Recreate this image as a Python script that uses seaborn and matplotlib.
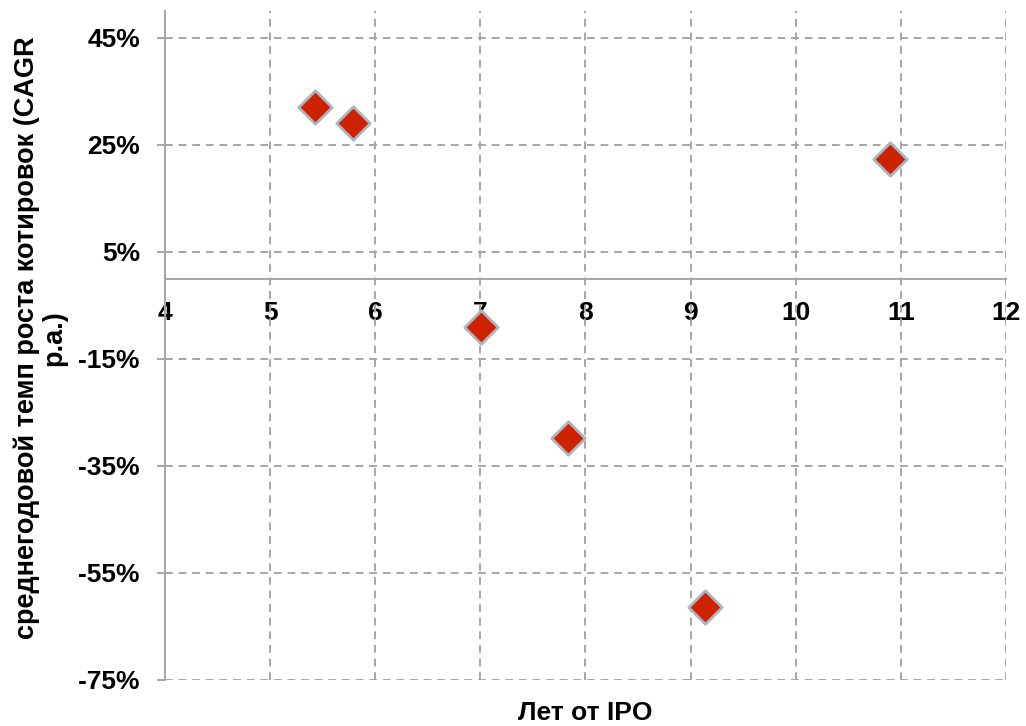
import numpy as np
import pandas as pd
import matplotlib
matplotlib.use("Agg")
import matplotlib.pyplot as plt
import seaborn as sns

# data
years_since_ipo = [5.43, 5.79, 10.9, 7.01, 7.83, 9.14]
cagr_pct = [32.1, 29.1, 22.4, -9.0, -29.8, -61.3]
y_ticks = [45, 25, 5, -15, -35, -55, -75]
x_ticks = [4, 5, 6, 7, 8, 9, 10, 11, 12]

df = pd.DataFrame({"years": years_since_ipo, "cagr": cagr_pct})

sns.set_style("white")
plt.rcParams['font.family'] = ['Liberation Sans', 'DejaVu Sans']
plt.rcParams['font.weight'] = 'bold'
plt.rcParams['text.color'] = 'black'
plt.rcParams['xtick.color'] = 'black'
plt.rcParams['ytick.color'] = 'black'

fig = plt.figure(figsize=(10.26, 7.26), dpi=100)
ax = fig.add_axes([0.1608, 0.0634, 0.8197, 0.9214])

grid_col = '#a6a6a6'
sns.scatterplot(data=df, x="years", y="cagr", marker='D', s=290,
                color='#cc2200', edgecolor='#aab5c4', linewidth=2.0,
                zorder=5, ax=ax, legend=False)

ax.set_xlim(4, 12)
ax.set_ylim(-75, 50)
ax.set_xticks(x_ticks)
ax.set_yticks(y_ticks)
ax.set_yticklabels([f"{v}%" for v in y_ticks])

for x in x_ticks[1:]:
    ax.axvline(x, color=grid_col, lw=1.4, ls=(0, (4, 3)), zorder=1)
for y in y_ticks:
    ax.axhline(y, color=grid_col, lw=1.4, ls=(0, (4, 3)), zorder=1)

ax.spines[['top', 'right']].set_visible(False)
ax.spines['bottom'].set_position(('data', 0))
for s in ['left', 'bottom']:
    ax.spines[s].set_color(grid_col)
    ax.spines[s].set_linewidth(1.4)

ax.tick_params(axis='y', length=6, width=1.4, color=grid_col, labelcolor='black',
               pad=12, labelsize=19, left=True)
ax.tick_params(axis='x', length=0, pad=16, labelsize=19, labelcolor='black',
               bottom=True)
for lab in ax.get_xticklabels() + ax.get_yticklabels():
    lab.set_fontweight('bold')

ax.set_xlabel("")
ax.set_ylabel("")
fig.text(585.5 / 1026, 1 - 713 / 726, "Лет от IPO", ha='center', va='center',
         fontsize=19, fontweight='bold', color='black')
fig.text(40 / 1026, 1 - 338 / 726, "среднегодовой темп роста котировок (CAGR\np.a.)",
         rotation=90, ha='center', va='center', multialignment='center',
         fontsize=19.5, fontweight='bold', linespacing=1.05, color='black')

fig.savefig("out.png", dpi=100)
